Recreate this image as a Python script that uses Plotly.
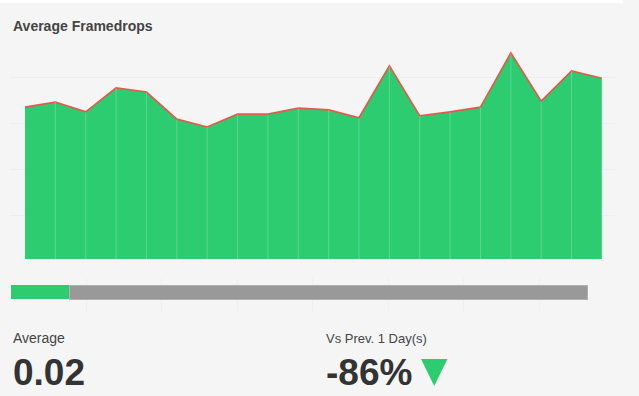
import plotly.graph_objects as go

W, H = 639, 396

# ---- data ----
days = list(range(20))
framedrops = [0.0330, 0.0341, 0.0320, 0.0372, 0.0363, 0.0304, 0.0287, 0.0315, 0.0315, 0.0328,
              0.0324, 0.0307, 0.0420, 0.0311, 0.0320, 0.0330, 0.0448, 0.0343, 0.0409, 0.0393]
progress_filled = 0.78
progress_total = 7.646
average_label = "0.02"
change_label = "-86%"
title_text = "Average Framedrops"
avg_caption = "Average"
change_caption = "Vs Prev. 1 Day(s)"

GREEN = "#2ecc71"
RED = "#e05b4b"
GRID = "#eeeeee"
BG = "#f5f5f5"


def px_x(p):
    return p / W


def px_y(p):
    return 1 - p / H


fig = go.Figure()

# area
fig.add_trace(go.Scatter(
    x=days, y=framedrops, mode="lines", fill="tozeroy",
    fillcolor=GREEN, line=dict(color=RED, width=1.7),
    hoverinfo="skip", showlegend=False, xaxis="x", yaxis="y"))

# light separators at each point
vx, vy = [], []
for d, v in zip(days[1:], framedrops[1:]):
    vx += [d, d, None]
    vy += [0, v, None]
fig.add_trace(go.Scatter(
    x=vx, y=vy, mode="lines", line=dict(color="rgba(255,255,255,0.22)", width=1),
    hoverinfo="skip", showlegend=False, xaxis="x", yaxis="y"))

# progress bar
fig.add_trace(go.Bar(
    x=[progress_filled], y=[0], orientation="h", width=0.433,
    marker=dict(color=GREEN, line=dict(width=0)),
    hoverinfo="skip", showlegend=False, xaxis="x2", yaxis="y2"))
fig.add_trace(go.Bar(
    x=[progress_total - progress_filled], y=[0], orientation="h", width=0.433,
    marker=dict(color="#999999", line=dict(color="#b0b0b0", width=1)),
    hoverinfo="skip", showlegend=False, xaxis="x2", yaxis="y2"))

unit = 0.01 / 46.0  # value per pixel

fig.update_layout(
    width=W, height=H,
    margin=dict(l=0, r=0, t=0, b=0),
    paper_bgcolor=BG, plot_bgcolor=BG,
    barmode="stack",
    xaxis=dict(domain=[px_x(10), px_x(615)], range=[-0.494, 19.43],
               showgrid=False, zeroline=False, showticklabels=False, ticks="",
               fixedrange=True),
    yaxis=dict(domain=[px_y(259), px_y(31)], range=[0, (259 - 31) * unit],
               showgrid=True, gridcolor=GRID, gridwidth=1,
               tick0=0.0095, dtick=0.01,
               zeroline=False, showticklabels=False, ticks="", fixedrange=True),
    xaxis2=dict(domain=[px_x(11), px_x(614.5)], range=[0, 8], anchor="y2",
                showgrid=True, gridcolor="#efefef", gridwidth=1,
                tickmode="array", tickvals=[1, 2, 3, 4, 5, 6, 7, 8],
                zeroline=False, showticklabels=False, ticks="", fixedrange=True),
    yaxis2=dict(domain=[px_y(311), px_y(278)], range=[-0.57, 0.43], anchor="x2",
                showgrid=False, zeroline=False, showticklabels=False, ticks="",
                fixedrange=True),
    shapes=[
        dict(type="rect", xref="paper", yref="paper",
             x0=0, x1=px_x(623), y0=px_y(3), y1=1,
             fillcolor="#ffffff", line=dict(width=0), layer="below"),
        dict(type="path", xref="paper", yref="paper",
             path=f"M {px_x(421)} {px_y(359)} L {px_x(447.5)} {px_y(359)} L {px_x(434.2)} {px_y(386)} Z",
             fillcolor=GREEN, line=dict(width=0)),
    ],
    annotations=[
        dict(text=f"<b>{title_text}</b>", xref="paper", yref="paper",
             x=px_x(11), y=px_y(26), xanchor="left", yanchor="middle", showarrow=False,
             font=dict(family="Liberation Sans, Arial", size=14, color="#444444")),
        dict(text=avg_caption, xref="paper", yref="paper",
             x=px_x(11), y=px_y(338), xanchor="left", yanchor="middle", showarrow=False,
             font=dict(family="Liberation Sans, Arial", size=14, color="#444444")),
        dict(text=f"<b>{average_label}</b>", xref="paper", yref="paper",
             x=px_x(11), y=px_y(372), xanchor="left", yanchor="middle", showarrow=False,
             font=dict(family="Liberation Sans, Arial", size=37, color="#333333")),
        dict(text=change_caption, xref="paper", yref="paper",
             x=px_x(324), y=px_y(338), xanchor="left", yanchor="middle", showarrow=False,
             font=dict(family="Liberation Sans, Arial", size=13, color="#444444")),
        dict(text=f"<b>{change_label}</b>", xref="paper", yref="paper",
             x=px_x(324), y=px_y(372), xanchor="left", yanchor="middle", showarrow=False,
             font=dict(family="Liberation Sans, Arial", size=37, color="#333333")),
    ],
)

fig.write_html(
    "out.html",
    config={"displayModeBar": False},
    post_script="document.body.style.margin='0px';document.body.style.overflow='hidden';",
)
